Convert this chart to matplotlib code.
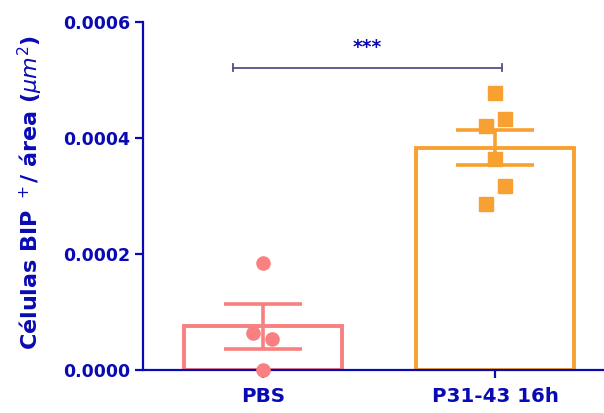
import numpy as np
import matplotlib
matplotlib.use("Agg")
import matplotlib.pyplot as plt

# ── Data ───────────────────────────────────────────────────────────────────
groups = ["PBS", "P31-43 16h"]
pbs_values = [0.000184, 0.0000638, 0.0000534, 0.0]
p31_values = [0.000478, 0.000433, 0.000421, 0.000364, 0.000317, 0.000286]
pbs_jitter = [0.0, -0.043, 0.039, 0.0]
p31_jitter = [0.0, 0.043, -0.039, 0.0, 0.043, -0.039]
yticks = [0.0, 0.0002, 0.0004, 0.0006]
sig_left, sig_right, sig_y = -0.13, 1.03, 0.000521
sig_text = "***"

blue = "#0a0ab4"
colors = ["#f98080", "#f9a033"]
markers = ["o", "s"]

plt.rcParams["font.family"] = ["DejaVu Sans"]
plt.rcParams["mathtext.fontset"] = "dejavusans"

fig = plt.figure(figsize=(6.04, 4.13), dpi=100)
ax = fig.add_axes([0.2368, 0.1041, 0.7632, 0.8426])

samples = [pbs_values, p31_values]
jitters = [pbs_jitter, p31_jitter]
for i, (vals, jit) in enumerate(zip(samples, jitters)):
    vals = np.array(vals)
    mean = vals.mean()
    sem = vals.std(ddof=1) / np.sqrt(len(vals))
    ax.bar(i, mean, width=0.68, facecolor="none", edgecolor=colors[i],
           linewidth=2.8, zorder=2)
    ax.errorbar(i, mean, yerr=sem, color=colors[i], elinewidth=2.6,
                capsize=28, capthick=2.6, zorder=3)
    ax.plot(i + np.array(jit), vals, linestyle="none", marker=markers[i],
            markersize=9.5, color=colors[i], zorder=4, clip_on=False)

# significance bracket
ax.plot([sig_left, sig_right], [sig_y, sig_y], color="#50508a", linewidth=1.3)
for xx in (sig_left, sig_right):
    ax.plot([xx, xx], [sig_y - 0.000006, sig_y + 0.000006], color="#50508a",
            linewidth=1.3)
ax.text((sig_left + sig_right) / 2, 0.000547, sig_text,
        ha="center", va="baseline", color=blue, fontsize=13.5,
        fontweight="bold")

ax.set_xlim(-0.517, 1.47)
ax.set_ylim(0, 0.0006)
ax.set_xticks(range(len(groups)))
ax.set_xticklabels(groups)
ax.set_yticks(yticks)
ax.set_yticklabels([f"{v:.4f}" for v in yticks])

for side in ("top", "right"):
    ax.spines[side].set_visible(False)
for side in ("left", "bottom"):
    ax.spines[side].set_color(blue)
    ax.spines[side].set_linewidth(1.6)
ax.tick_params(axis="both", colors=blue, width=1.6)
ax.tick_params(axis="y", length=5.5, pad=4, labelsize=12.5)
ax.tick_params(axis="x", length=6, pad=6, labelsize=14.3)
for lab in ax.get_xticklabels() + ax.get_yticklabels():
    lab.set_fontweight("bold")
    lab.set_color(blue)

ax.set_ylabel(r"Células BIP $^+$/ área ($\mu m^2$)", color=blue,
              fontsize=16, fontweight="bold")
ax.yaxis.set_label_coords(-0.212, 0.51)

fig.savefig("out.png", dpi=100)
